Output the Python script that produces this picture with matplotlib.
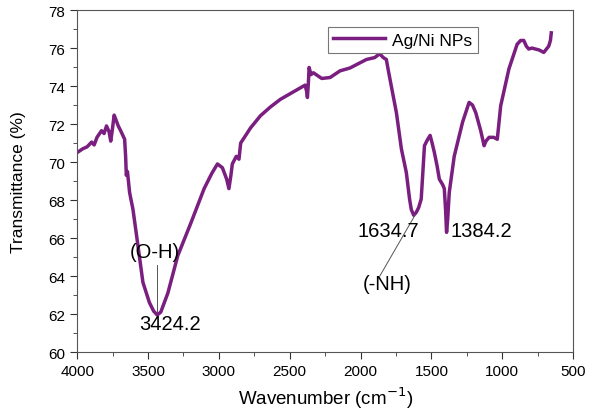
import matplotlib
matplotlib.use("Agg")
import matplotlib.pyplot as plt
from matplotlib.ticker import MultipleLocator

plt.rcParams['font.family'] = ['Liberation Sans', 'DejaVu Sans']

# FTIR spectrum
wavenumber = [4000, 3960, 3930, 3898, 3880, 3860, 3828, 3810, 3793, 3775, 3763, 3750,
              3739, 3725, 3710, 3693, 3665, 3658, 3653, 3645, 3630, 3606, 3571, 3536,
              3490, 3460, 3435, 3410, 3360, 3290, 3197, 3104, 3050, 3010, 2975, 2945,
              2929, 2915, 2905, 2877, 2858, 2846, 2776, 2706, 2636, 2566, 2426, 2391,
              2380, 2375, 2368, 2363, 2350, 2333, 2274, 2215, 2145, 2075, 1958, 1900,
              1865, 1840, 1818, 1806, 1783, 1747, 1712, 1677, 1654, 1642, 1625, 1607,
              1590, 1572, 1560, 1549, 1526, 1509, 1495, 1479, 1460, 1444, 1420, 1409,
              1400, 1393, 1385, 1374, 1339, 1280, 1234, 1210, 1187, 1152, 1128, 1115,
              1093, 1060, 1035, 1011, 953, 895, 870, 848, 830, 813, 790, 766, 740, 707,
              672, 660, 654]
transmittance = [70.5, 70.7, 70.8, 71.05, 70.9, 71.3, 71.65, 71.5, 71.9, 71.6, 71.1, 71.8,
                 72.47, 72.2, 71.9, 71.65, 71.2, 70.3, 69.3, 69.5, 68.4, 67.5, 65.6, 63.67,
                 62.6, 62.15, 61.95, 62.1, 63.1, 65.07, 66.8, 68.6, 69.4, 69.9, 69.7, 69.1,
                 68.6, 69.3, 69.9, 70.3, 70.15, 71.0, 71.8, 72.44, 72.9, 73.3, 73.9, 74.05,
                 73.7, 73.4, 74.2, 74.98, 74.6, 74.7, 74.4, 74.45, 74.8, 74.95, 75.4, 75.5,
                 75.7, 75.5, 75.4, 74.9, 74.0, 72.6, 70.7, 69.45, 68.05, 67.5, 67.2, 67.35,
                 67.6, 68.05, 69.5, 70.86, 71.2, 71.4, 71.0, 70.5, 69.8, 69.1, 68.8, 68.6,
                 67.5, 66.3, 67.0, 68.4, 70.3, 72.1, 73.14, 73.0, 72.6, 71.65, 70.86, 71.1,
                 71.3, 71.3, 71.2, 72.96, 74.9, 76.2, 76.4, 76.4, 76.1, 75.95, 76.0, 75.95,
                 75.9, 75.77, 76.1, 76.4, 76.8]

series_label = 'Ag/Ni NPs'
peak_labels = ['3424.2', '1634.7', '1384.2']
group_labels = ['(O-H)', '(-NH)']

fig = plt.figure(figsize=(5.89, 4.10), dpi=100)
ax = fig.add_axes([0.131, 0.139, 0.842, 0.834])

ax.plot(wavenumber, transmittance, color='#7a1f80', lw=2.5, label=series_label)

ax.set_xlim(4000, 500)
ax.set_ylim(60, 78)
ax.xaxis.set_major_locator(MultipleLocator(500))
ax.xaxis.set_minor_locator(MultipleLocator(250))
ax.yaxis.set_major_locator(MultipleLocator(2))
ax.yaxis.set_minor_locator(MultipleLocator(1))
ax.tick_params(which='both', direction='out', colors='#333333', labelcolor='black', labelsize=11)
ax.tick_params(which='major', length=5)
ax.tick_params(which='minor', length=3)
for s in ax.spines.values():
    s.set_color('#555555')

ax.set_xlabel('Wavenumber (cm$^{-1}$)', fontsize=13.5, labelpad=5)
ax.set_ylabel('Transmittance (%)', fontsize=12.5, labelpad=16)

# peak annotations
fs = 14.5
ax.text(3450, 65.3, group_labels[0], fontsize=fs, ha='center', va='center')
ax.plot([3440, 3440], [64.6, 62.1], color='#555555', lw=0.7)
ax.text(3348, 61.5, peak_labels[0], fontsize=fs, ha='center', va='center')

ax.text(1801, 66.4, peak_labels[1], fontsize=fs, ha='center', va='center')
ax.text(1365, 66.4, peak_labels[2], fontsize=fs, ha='left', va='center')
ax.plot([1619, 1864], [67.16, 64.0], color='#555555', lw=0.7)
ax.text(1809, 63.6, group_labels[1], fontsize=fs, ha='center', va='center')

leg = ax.legend(loc='upper left', bbox_to_anchor=(0.506, 0.950), fontsize=12.5,
                handlelength=3.0, fancybox=False, framealpha=1, borderpad=0.3,
                handletextpad=0.4, borderaxespad=0)
leg.get_frame().set_edgecolor('#777777')
leg.get_frame().set_linewidth(0.8)

fig.savefig('out.png', dpi=100)
